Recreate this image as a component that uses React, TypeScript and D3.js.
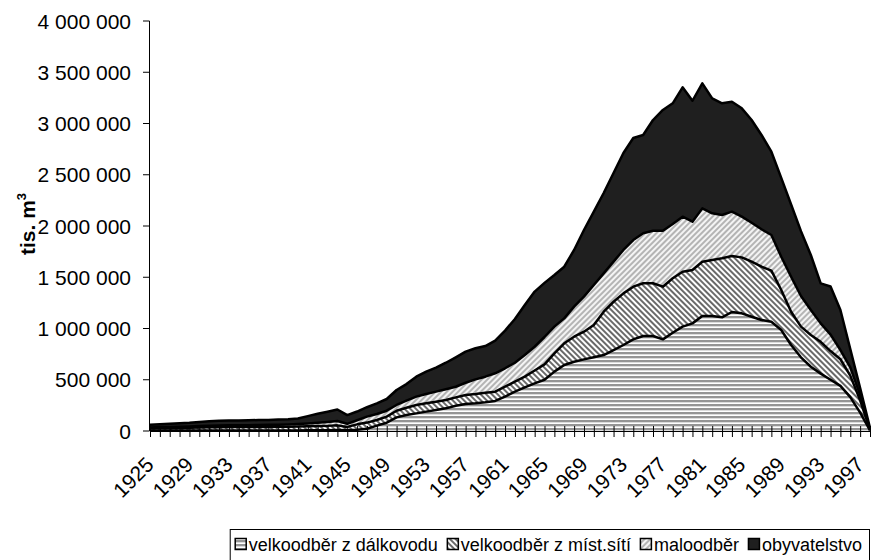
import React from 'react'
import * as d3 from 'd3'

const years = [
  1925, 1926, 1927, 1928, 1929, 1930, 1931, 1932, 1933, 1934,
  1935, 1936, 1937, 1938, 1939, 1940, 1941, 1942, 1943, 1944,
  1945, 1946, 1947, 1948, 1949, 1950, 1951, 1952, 1953, 1954,
  1955, 1956, 1957, 1958, 1959, 1960, 1961, 1962, 1963, 1964,
  1965, 1966, 1967, 1968, 1969, 1970, 1971, 1972, 1973, 1974,
  1975, 1976, 1977, 1978, 1979, 1980, 1981, 1982, 1983, 1984,
  1985, 1986, 1987, 1988, 1989, 1990, 1991, 1992, 1993, 1994,
  1995, 1996, 1997, 1998,
]

// tis. m3
const dalkovod = [
  5000, 5000, 5000, 5000, 5000, 5000, 5000, 5000, 5000, 5000,
  5000, 5000, 5000, 6000, 6000, 6000, 7000, 8000, 8000, 10000,
  8000, 12000, 22000, 52000, 81000, 133000, 156000, 172000, 189000, 205000,
  221000, 247000, 263000, 270000, 280000, 293000, 335000, 384000, 426000, 465000,
  500000, 579000, 644000, 676000, 699000, 719000, 741000, 790000, 839000, 894000,
  927000, 927000, 894000, 959000, 1018000, 1050000, 1122000, 1122000, 1109000, 1161000,
  1148000, 1115000, 1083000, 1066000, 985000, 839000, 719000, 627000, 560000, 500000,
  440000, 330000, 180000, 5000,
]
const mistniSite = [
  20000, 22000, 23000, 25000, 27000, 29000, 31000, 32000, 33000, 33000,
  34000, 34000, 35000, 35000, 36000, 38000, 39000, 40000, 42000, 45000,
  32000, 53000, 60000, 55000, 59000, 65000, 71000, 82000, 81000, 81000,
  81000, 81000, 88000, 91000, 94000, 91000, 97000, 97000, 104000, 125000,
  150000, 179000, 212000, 244000, 270000, 315000, 423000, 471000, 504000, 514000,
  514000, 514000, 514000, 531000, 536000, 521000, 530000, 546000, 576000, 546000,
  546000, 537000, 520000, 498000, 391000, 325000, 299000, 310000, 310000, 280000,
  260000, 210000, 120000, 5000,
]
const maloodber = [
  10000, 11000, 12000, 12000, 13000, 14000, 16000, 17000, 17000, 18000,
  18000, 19000, 20000, 21000, 22000, 24000, 28000, 32000, 38000, 43000,
  30000, 40000, 58000, 59000, 58000, 56000, 69000, 81000, 91000, 98000,
  105000, 104000, 120000, 143000, 156000, 179000, 180000, 185000, 211000, 232000,
  267000, 260000, 243000, 293000, 342000, 390000, 374000, 391000, 423000, 455000,
  488000, 513000, 546000, 529000, 537000, 471000, 520000, 456000, 422000, 433000,
  397000, 380000, 365000, 348000, 324000, 341000, 299000, 243000, 180000, 160000,
  90000, 80000, 50000, 5000,
]
const obyvatelstvo = [
  25000, 27000, 30000, 33000, 35000, 40000, 43000, 46000, 47000, 47000,
  48000, 49000, 48000, 50000, 51000, 54000, 71000, 88000, 100000, 112000,
  85000, 85000, 92000, 104000, 114000, 146000, 162000, 195000, 218000, 234000,
  259000, 287000, 303000, 303000, 299000, 318000, 367000, 427000, 488000, 538000,
  528000, 504000, 504000, 553000, 650000, 716000, 784000, 865000, 946000, 995000,
  959000, 1080000, 1178000, 1178000, 1262000, 1180000, 1220000, 1121000, 1090000, 1073000,
  1057000, 1002000, 920000, 813000, 770000, 705000, 633000, 537000, 390000, 470000,
  390000, 180000, 70000, 15000,
]

const seriesKeys = ['dalkovod', 'mistniSite', 'maloodber', 'obyvatelstvo']
const seriesNames = ['velkoodběr z dálkovodu', 'velkoodběr z míst.sítí', 'maloodběr', 'obyvatelstvo']
const seriesFills = ['url(#p-dalk)', 'url(#p-mist)', 'url(#p-malo)', '#1f1f1f']

const yTicks = [0, 500000, 1000000, 1500000, 2000000, 2500000, 3000000, 3500000, 4000000]
const xLabelYears = [1925, 1929, 1933, 1937, 1941, 1945, 1949, 1953, 1957, 1961, 1965, 1969, 1973, 1977, 1981, 1985, 1989, 1993, 1997]

const FONT = '"Liberation Sans", Arial, sans-serif'
const FS = 21
const LEGEND_FS = 18

const fmt = d3.formatLocale({ decimal: ',', thousands: '\u00a0', grouping: [3], currency: ['', ''] }).format(',')

let measureCtx: CanvasRenderingContext2D | null = null
function textWidth(s: string, size: number) {
  if (!measureCtx) measureCtx = document.createElement('canvas').getContext('2d')
  measureCtx!.font = `${size}px "Liberation Sans", Arial, sans-serif`
  return measureCtx!.measureText(s).width
}

export default function App() {
  const left = 150, right = 870, top = 21, bottom = 431

  const x = d3.scalePoint<number>().domain(years).range([left, right])
  const y = d3.scaleLinear().domain([0, 4000000]).range([bottom, top])

  const rows = years.map((yr, i) => ({
    year: yr,
    dalkovod: dalkovod[i],
    mistniSite: mistniSite[i],
    maloodber: maloodber[i],
    obyvatelstvo: obyvatelstvo[i],
  }))
  const stacked = d3.stack<any>().keys(seriesKeys)(rows)

  const area = d3.area<any>()
    .x(d => x(d.data.year)!)
    .y0(d => y(d[0]))
    .y1(d => y(d[1]))
  const topLine = d3.line<any>()
    .x(d => x(d.data.year)!)
    .y(d => y(d[1]))

  // legend, right aligned to the chart edge
  const sq = 11, sqGap = 3, itemGap = 9, padR = 7, padL = 5
  const widths = seriesNames.map(n => textWidth(n, LEGEND_FS))
  const legendW = padL + widths.reduce((a, w) => a + sq + sqGap + w, 0) + itemGap * (seriesNames.length - 1) + padR
  const legendRight = 869
  const legendLeft = legendRight - legendW
  let cursor = legendLeft + padL
  const legendItems = seriesNames.map((n, i) => {
    const item = { name: n, fill: seriesFills[i], x: cursor }
    cursor += sq + sqGap + widths[i] + itemGap
    return item
  })

  return (
    <>
      <style>{'body{margin:0}'}</style>
      <svg width={871} height={560} style={{ display: 'block', fontFamily: FONT }}>
        <defs>
          <pattern id='p-dalk' width={4} height={4} patternUnits='userSpaceOnUse'>
            <rect width={4} height={4} fill='#fff' />
            <rect width={4} height={2} fill='#959595' />
            <rect y={2} width={4} height={1} fill='#dcdcdc' />
          </pattern>
          <pattern id='p-mist' width={4} height={4} patternUnits='userSpaceOnUse' patternTransform='rotate(-45)'>
            <rect width={4} height={4} fill='#fff' />
            <rect width={2} height={4} fill='#6a6a6a' />
          </pattern>
          <pattern id='p-malo' width={4} height={4} patternUnits='userSpaceOnUse' patternTransform='rotate(45)'>
            <rect width={4} height={4} fill='#f4f4f4' />
            <rect width={2} height={4} fill='#b4b4b4' />
          </pattern>
        </defs>

        {stacked.map((s, i) => (
          <path key={s.key} d={area(s) || ''} fill={seriesFills[i]} />
        ))}
        {stacked.map(s => (
          <path key={s.key + '-l'} d={topLine(s) || ''} fill='none' stroke='#000' strokeWidth={2.5} strokeLinejoin='round' />
        ))}

        {/* y axis */}
        <line x1={left - 0.5} x2={left - 0.5} y1={top} y2={bottom} stroke='#000' />
        {yTicks.map(t => (
          <g key={t}>
            <line x1={left - 7} x2={left - 0.5} y1={y(t)} y2={y(t)} stroke='#000' />
            <text x={131} y={y(t) + 7.5} textAnchor='end' fontSize={FS} fill='#000'>{fmt(t)}</text>
          </g>
        ))}
        <text transform={`translate(35,224) rotate(-90)`} textAnchor='middle' fontSize={FS} fontWeight='bold'>
          tis. m<tspan fontSize={13} dy={-9}>3</tspan>
        </text>

        {/* x axis */}
        <line x1={left} x2={right} y1={bottom + 0.5} y2={bottom + 0.5} stroke='#000' />
        {years.map(yr => (
          <line key={yr} x1={x(yr)! + 0.5} x2={x(yr)! + 0.5} y1={bottom - 5} y2={bottom + 6} stroke='#000' />
        ))}
        {xLabelYears.map(yr => (
          <text key={yr} transform={`translate(${x(yr)! + 5},${466}) rotate(-45)`} textAnchor='end' fontSize={FS}>
            {yr}
          </text>
        ))}

        {/* legend */}
        <rect x={legendLeft + 0.5} y={529.5} width={legendW} height={40} fill='#fff' stroke='#000' />
        {legendItems.map(it => (
          <g key={it.name}>
            <rect x={it.x + 0.5} y={538.5} width={sq} height={sq} fill={it.fill} stroke='#000' strokeWidth={1.5} />
            <text x={it.x + sq + sqGap} y={551} fontSize={LEGEND_FS}>{it.name}</text>
          </g>
        ))}
      </svg>
    </>
  )
}
